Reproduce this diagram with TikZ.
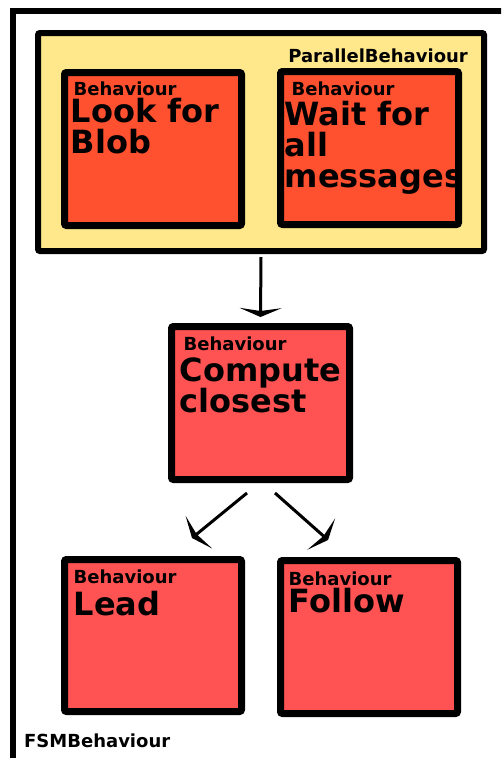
\documentclass[tikz,border=0pt]{standalone}
\usepackage{fontspec}
\setmainfont{DejaVu Sans}
\usetikzlibrary{arrows.meta}

\definecolor{parfill}{RGB}{255,232,140}
\definecolor{parfillred}{RGB}{255,80,48}
\definecolor{seqfill}{RGB}{255,82,82}

% stacked title lines whose baseline is that of the first line
\newcommand{\titlelines}[1]{\vtop{\halign{##\hfil\cr#1\crcr}}}

\tikzset{
  behbox/.style={draw=black, line width=7pt, rounded corners=2pt,
    rectangle, inner sep=0pt, outer sep=0pt},
  parbox/.style={draw=black, line width=6pt, fill=parfill, rounded corners=2pt,
    rectangle, inner sep=0pt, outer sep=0pt},
  kindlabel/.style={anchor=base west, inner sep=0pt,
    font=\bfseries\fontsize{18}{21}\selectfont},
  titlelabel/.style={anchor=base west, inner sep=0pt,
    font=\bfseries\fontsize{32}{31}\selectfont},
  flow/.style={line width=3pt, -{Stealth[length=9pt, width=42pt, inset=3pt]}}
}

\begin{document}
\begin{tikzpicture}[x=1pt, y=-1pt]
  \useasboundingbox (0,0) rectangle (501,758);
  \clip (0,0) rectangle (501,758);

  % outer state machine frame (runs off the page on the right and bottom)
  \node[draw=black, line width=6pt, rectangle, inner sep=0pt, outer sep=0pt,
        minimum width=507pt, minimum height=769pt] (fsm) at (266.5,395.5) {};
  \node[kindlabel] (fsmlbl) at (24,747) {FSMBehaviour};

  % parallel container
  \node[parbox, minimum width=446pt, minimum height=218pt] (par) at (261,142) {};
  \node[kindlabel, anchor=base east] (parlbl) at ([shift={(-16pt,-29pt)}]par.north east) {ParallelBehaviour};

  % behaviours inside the parallel container
  \node[behbox, fill=parfillred, minimum width=177pt, minimum height=153pt] (look) at (153,149) {};
  \node[behbox, fill=parfillred, minimum width=178pt, minimum height=153pt] (wait) at (369.5,148) {};

  % sequential behaviours
  \node[behbox, fill=seqfill, minimum width=178pt, minimum height=153pt] (comp) at (260.5,403) {};
  \node[behbox, fill=seqfill, minimum width=177pt, minimum height=152pt] (lead) at (153,635.5) {};
  \node[behbox, fill=seqfill, minimum width=177pt, minimum height=153pt] (follow) at (369,637) {};

  % box texts
  \node[kindlabel] (lookk) at ([shift={(9pt,-22.5pt)}]look.north west) {Behaviour};
  \node[titlelabel] (lookt) at ([shift={(6pt,-49.5pt)}]look.north west) {\titlelines{Look for\cr Blob}};

  \node[kindlabel] (waitk) at ([shift={(11pt,-23.5pt)}]wait.north west) {Behaviour};
  \node[titlelabel] (waitt) at ([shift={(4pt,-53.5pt)}]wait.north west) {\titlelines{Wait for\cr all\cr messages}};

  \node[kindlabel] (compk) at ([shift={(12pt,-23.5pt)}]comp.north west) {Behaviour};
  \node[titlelabel] (compt) at ([shift={(8pt,-54.5pt)}]comp.north west) {\titlelines{Compute\cr closest}};

  \node[kindlabel] (leadk) at ([shift={(9pt,-23.5pt)}]lead.north west) {Behaviour};
  \node[titlelabel] (leadt) at ([shift={(9pt,-55.5pt)}]lead.north west) {Lead};

  \node[kindlabel] (followk) at ([shift={(8pt,-24.5pt)}]follow.north west) {Behaviour};
  \node[titlelabel] (followt) at ([shift={(8pt,-51.5pt)}]follow.north west) {Follow};

  % transitions
  \draw[flow] ([yshift=-6pt]par.south) -- ([yshift=9.5pt]comp.north);
  \draw[flow] ([shift={(-13.5pt,-13.5pt)}]comp.south) -- ([shift={(-49.5pt,21.5pt)}]lead.north east);
  \draw[flow] ([shift={(14.5pt,-13.5pt)}]comp.south) -- ([shift={(47.5pt,20.5pt)}]follow.north west);
\end{tikzpicture}
\end{document}
